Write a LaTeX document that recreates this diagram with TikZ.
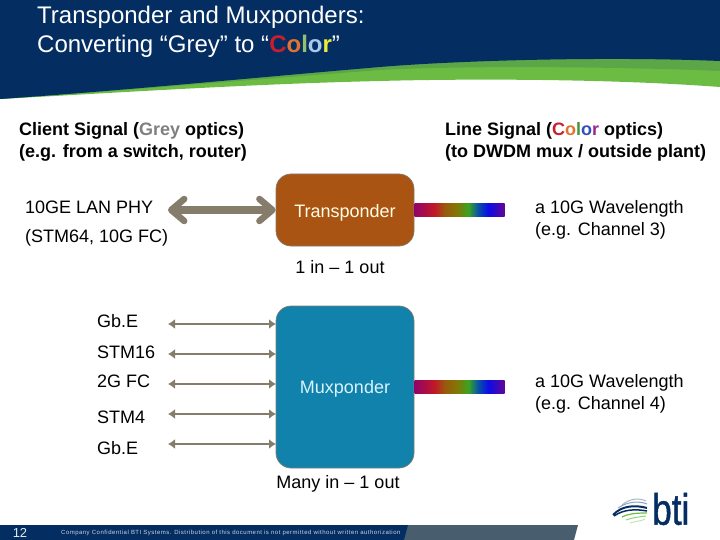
\documentclass[tikz,border=0pt]{standalone}
\usepackage{fontspec}
\setmainfont{Liberation Sans}
\usetikzlibrary{arrows.meta}
\definecolor{navy}{RGB}{4,46,98}
\definecolor{leafdark}{RGB}{92,166,72}
\definecolor{leafgreen}{RGB}{108,188,68}
\definecolor{rustbox}{RGB}{170,84,20}
\definecolor{bluebox}{RGB}{16,130,172}
\definecolor{arrowgrey}{RGB}{134,124,108}
\definecolor{barslate}{RGB}{72,94,110}
\pgfdeclarehorizontalshading{rainbowbar}{100bp}{
  color(0bp)=(rgb:red,0.85;green,0.02;blue,0.62);
  color(25bp)=(rgb:red,0.85;green,0.02;blue,0.62);
  color(36bp)=(rgb:red,1;green,0.12;blue,0.20);
  color(42bp)=(rgb:red,1;green,0.60;blue,0.08);
  color(49bp)=(rgb:red,1;green,0.95;blue,0.05);
  color(55bp)=(rgb:red,0.25;green,0.72;blue,0.15);
  color(60bp)=(rgb:red,0.03;green,0.30;blue,0.55);
  color(66bp)=(rgb:red,0.05;green,0.05;blue,1);
  color(75bp)=(rgb:red,0.52;green,0.03;blue,0.80);
  color(100bp)=(rgb:red,0.52;green,0.03;blue,0.80)}
\tikzset{
  lbl/.style={anchor=west,font=\fontsize{18}{22}\selectfont,inner sep=0pt,align=left},
  head/.style={anchor=west,font=\fontsize{18}{22}\selectfont\bfseries,inner sep=0pt,align=left},
  captext/.style={anchor=center,font=\fontsize{18}{22}\selectfont,inner sep=0pt},
  device/.style={rounded corners=15pt,minimum width=138pt,inner sep=0pt,font=\fontsize{18}{22}\selectfont,draw=arrowgrey,line width=0.7pt},
  rainbow/.style={inner sep=0pt,minimum width=90pt,minimum height=13pt,shading=rainbowbar,anchor=west},
  thinarrow/.style={draw=arrowgrey,line width=2.6pt,{Latex[length=7pt,width=10pt]}-{Latex[length=7pt,width=10pt]}},
  fatarrow/.style={draw=arrowgrey,line width=7.5pt,{Straight Barb[length=13pt,width=22pt,line width=6.5pt,round]}-{Straight Barb[length=13pt,width=22pt,line width=6.5pt,round]}}
}
\begin{document}
\begin{tikzpicture}[x=1pt,y=-1pt]
\useasboundingbox (0,0) rectangle (720,540);
% header
\fill[leafgreen] (0,99) .. controls (130,92) and (250,84) .. (380,81) .. controls (450,79) and (600,78) .. (720,87) -- (720,0) -- (0,0) -- cycle;
\fill[leafdark] (0,99) .. controls (130,90) and (250,80) .. (380,70) .. controls (450,66) and (600,66) .. (720,71) -- (720,0) -- (0,0) -- cycle;
\fill[navy] (0,99) .. controls (130,90) and (250,78) .. (380,67) .. controls (450,61) and (600,56) .. (720,61) -- (720,0) -- (0,0) -- cycle;
\node[anchor=west,inner sep=0pt,text=white,align=left,font=\fontsize{24}{29}\selectfont] (title) at (37,32)
  {Transponder and Muxponders:\\Converting “Grey” to “{\bfseries\textcolor[RGB]{200,30,45}{C}\textcolor[RGB]{225,115,50}{o}\textcolor[RGB]{150,190,110}{l}\textcolor[RGB]{170,200,235}{o}\textcolor[RGB]{235,235,60}{r}}”};
% headings
\node[head] (clienthead) at (19,141.5) {Client Signal ({\color[RGB]{128,128,128}Grey} optics)\\(e.g. from a switch, router)};
\node[head] (linehead) at (445,141.5) {Line Signal ({\color[RGB]{200,30,45}C\color[RGB]{225,115,50}o\color[RGB]{70,150,60}l\color[RGB]{50,80,190}o\color[RGB]{150,40,150}r} optics)\\(to DWDM mux / outside plant)};
% transponder
\node[device,fill=rustbox,minimum height=72pt,text=white!90!yellow] (trans) at (345,210) {\rule{0pt}{19pt}Transponder};
\node[lbl] (lan) at (25,207) {10GE LAN PHY};
\node[lbl] (stm64) at (25,238) {(STM64, 10G FC)};
\coordinate (fatend) at (168,210);
\draw[fatarrow] (fatend) -- (trans.west);
\node[rainbow] (bar1) at (trans.east) {};
\node[lbl] (wave1) at (535,220) {a 10G Wavelength\\(e.g. Channel 3)};
\node[captext] (c1) at (340,267) {1 in – 1 out};
% muxponder
\node[device,fill=bluebox,minimum height=162pt,text=white!85!cyan] (mux) at (345,387) {\rule{0pt}{17pt}Muxponder};
\node[rainbow] (bar2) at (mux.east) {};
\node[lbl] (wave2) at (535,394) {a 10G Wavelength\\(e.g. Channel 4)};
\node[captext] (c2) at (338,484) {Many in – 1 out};
\node[lbl] (g1) at (97,321) {Gb.E};
\node[lbl] (g2) at (97,352) {STM16};
\node[lbl] (g3) at (97,381) {2G FC};
\node[lbl] (g4) at (97,417) {STM4};
\node[lbl] (g5) at (97,448) {Gb.E};
\coordinate (a1) at (168,324);
\coordinate (a2) at (168,354);
\coordinate (a3) at (168,384);
\coordinate (a4) at (168,414);
\coordinate (a5) at (168,444);
\coordinate (b1) at (276,324);
\coordinate (b2) at (276,354);
\coordinate (b3) at (276,384);
\coordinate (b4) at (276,414);
\coordinate (b5) at (276,444);
\foreach \i in {1,...,5} \draw[thinarrow] (a\i) -- (b\i);
% footer
\fill[barslate] (0,525) -- (578,525) -- (574,540) -- (0,540) -- cycle;
\fill[navy] (0,525) -- (408,525) -- (404,540) -- (0,540) -- cycle;
\node[anchor=center,inner sep=0pt,text=white!90!navy,font=\fontsize{13}{15}\selectfont] (pg) at (20,533) {12};
\node[anchor=west,inner sep=0pt,text=white!80!navy,font=\fontsize{6}{7}\selectfont,text width=343pt,align=justify] (conf) at (61,533) {\addfontfeatures{LetterSpace=8}Company Confidential BTI Systems. Distribution of this document is not permitted without written authorization};
% logo
\node[anchor=west,inner sep=0pt,text=navy,font=\fontsize{44}{44}\selectfont] (bti) at (652,509) {\scalebox{0.8}[1]{\addfontfeatures{FakeBold=1.2}bti}};
\draw[navy!35,line width=1pt] (622,505) .. controls (630,498) and (640,498) .. (646,501);
\draw[navy!45,line width=1pt] (618,508) .. controls (628,501) and (640,501) .. (647,504);
\draw[navy,line width=2pt] (613,515) .. controls (622,505) and (636,505) .. (647,508);
\draw[navy,line width=1.5pt] (614,516) .. controls (624,509) and (636,509) .. (647,511);
\draw[leafgreen,line width=1.2pt] (622,517) .. controls (630,513) and (640,513) .. (647,513);
\draw[leafgreen!70,line width=1pt] (626,520) .. controls (634,517) and (640,517) .. (646,516);
\draw[leafgreen!40,line width=1pt] (630,523) .. controls (636,521) and (642,521) .. (645,519);
\end{tikzpicture}
\end{document}
